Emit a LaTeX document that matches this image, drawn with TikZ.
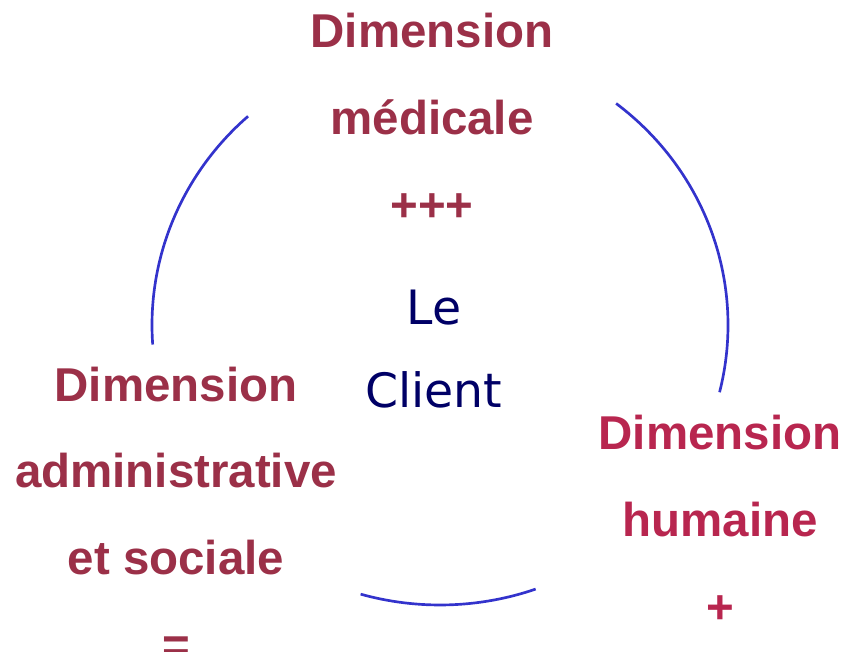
\documentclass[tikz,border=0pt]{standalone}
\usepackage{fontspec}
\setmainfont{Liberation Sans}
\newfontfamily\clientfont{DejaVu Sans}
\definecolor{dimred}{HTML}{9B3048}
\definecolor{humred}{HTML}{B8264F}
\definecolor{arcblue}{HTML}{3333CC}
\definecolor{clientnavy}{HTML}{000066}
\begin{document}
\begin{tikzpicture}[x=0.75pt,y=0.75pt,
  dimtext/.style={font=\fontsize{35.6}{42}\selectfont\bfseries, text=dimred, inner sep=0pt, anchor=base},
  humtext/.style={dimtext, text=humred},
  clienttext/.style={font=\clientfont\fontsize{35.5}{42}\selectfont, text=clientnavy, inner sep=0pt, anchor=base},
  ring/.style={draw=arcblue, line width=2pt}]
\useasboundingbox (0,0) rectangle (845,652);
\clip (0,0) rectangle (845,652);
\coordinate (C) at (440,327);
% arcs of the ring
\draw[ring] ([shift={(131.8:288 and 280)}]C) arc[start angle=131.8, end angle=184, x radius=288, y radius=280];
\draw[ring] ([shift={(52.3:288 and 280)}]C) arc[start angle=52.3, end angle=-13.9, x radius=288, y radius=280];
\draw[ring] ([shift={(254:288 and 280)}]C) arc[start angle=254, end angle=289.4, x radius=288, y radius=280];
% top block
\node[dimtext] (med1) at (432,604) {Dimension};
\node[dimtext] (med2) at (432,517) {médicale};
\node[dimtext] (med3) at (432,430) {+++};
% left block
\node[dimtext] (adm1) at (176,250) {Dimension};
\node[dimtext] (adm2) at (176,164) {administrative};
\node[dimtext] (adm3) at (176,77) {et sociale};
\node[dimtext] (adm4) at (176,-10) {=};
% right block
\node[humtext] (hum1) at (720,202) {Dimension};
\node[humtext] (hum2) at (720,115) {humaine};
\node[humtext] (hum3) at (720,28) {+};
% centre
\node[clienttext] (cl1) at (434,327) {Le};
\node[clienttext] (cl2) at (434,244) {Client};
\end{tikzpicture}
\end{document}
